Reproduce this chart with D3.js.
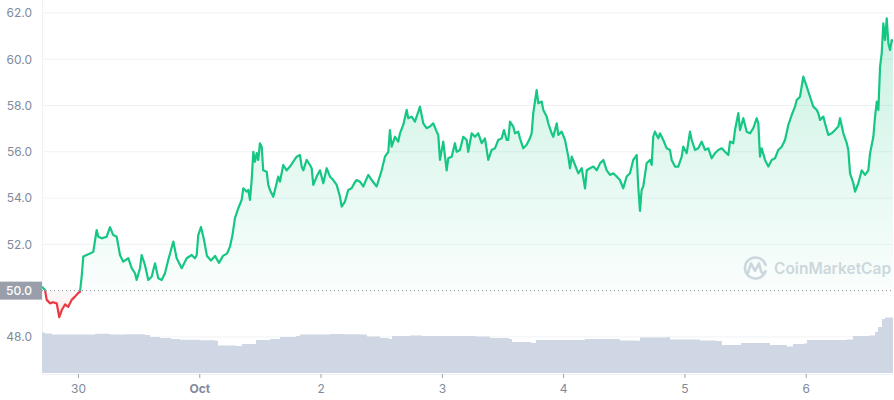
<!DOCTYPE html>
<html><head><meta charset="utf-8">
<script src="https://cdn.jsdelivr.net/npm/d3@7"></script>
<style>
body{margin:0;background:#fff;}
svg{display:block;font-family:Inter,"Noto Sans",sans-serif;}
</style>
</head><body>
<svg id="c" width="894" height="400"></svg>
<script>
// Hours relative to 2021-09-30 00:00 UTC
const priceHours = [-7.12,-6.53,-6.19,-5.54,-4.95,-4.21,-3.7,-3.23,-2.57,-1.92,-1.25,-0.59,0.06,0.40,0.73,1.05,1.72,2.37,3.03,3.70,4.02,4.69,5.68,6.33,6.98,7.66,8.31,8.96,9.95,10.63,11.28,11.61,12.27,12.60,13.26,13.91,14.58,15.24,15.89,16.56,17.21,17.87,18.86,19.53,20.52,21.51,22.50,23.15,23.49,23.80,24.34,24.93,25.52,26.32,27.11,27.90,28.69,29.48,30.07,30.57,31.06,31.72,32.39,32.71,33.39,33.70,34.03,34.37,34.69,35.02,35.36,35.67,36.01,36.35,36.66,37.34,37.65,37.99,38.64,38.98,39.63,39.97,40.62,41.29,41.95,42.60,43.27,43.92,44.26,44.58,45.25,45.90,46.24,46.56,47.23,47.88,48.54,49.21,49.86,50.51,51.19,51.84,52.18,52.83,53.48,54.15,54.67,55.14,55.80,56.45,57.44,58.11,59.10,60.09,60.74,61.40,61.73,62.07,62.72,63.37,63.71,64.36,65.04,65.35,66.03,66.68,67.33,67.67,68.32,68.99,69.65,70.30,70.97,71.29,71.63,72.28,72.95,73.27,73.94,74.59,74.93,75.58,76.24,76.91,77.22,77.90,78.55,79.20,79.88,80.53,81.18,81.86,82.51,83.16,83.84,84.29,84.82,85.14,85.48,86.13,86.47,87.12,87.46,88.11,88.78,89.43,89.77,90.09,90.76,91.08,91.75,92.07,92.74,93.06,93.73,94.05,94.73,95.04,95.71,96.37,97.02,97.36,97.70,98.35,99.01,99.68,100.33,100.67,101.32,101.98,102.65,103.30,103.95,104.62,105.28,105.93,106.59,107.24,107.89,108.57,109.22,109.87,110.55,110.86,111.20,111.53,111.85,112.52,113.18,113.52,113.83,114.17,114.82,115.16,115.81,116.49,117.14,117.47,118.13,118.78,119.46,119.77,120.45,121.10,121.44,122.09,122.74,123.42,124.07,124.72,125.40,126.05,126.70,127.38,128.03,128.68,129.02,129.67,130.01,130.66,131.00,131.65,132.32,132.98,133.63,134.30,134.62,134.95,135.29,135.94,136.60,137.27,137.92,138.58,139.25,139.90,140.56,141.23,141.88,142.22,142.87,143.52,144.20,144.85,145.50,146.18,146.49,146.83,147.48,147.82,148.47,149.15,149.80,150.45,150.79,151.44,152.12,152.43,152.77,153.42,153.76,154.41,155.08,155.74,156.39,156.73,157.38,157.72,158.06,158.37,158.71,159.04,159.36,159.70,160.03,160.35,160.68,161.02,161.27];
const prices = [50.17,50.03,49.6,49.45,49.5,49.45,48.85,49.15,49.4,49.3,49.6,49.74,49.9,49.96,50.6,51.47,51.54,51.6,51.68,52.62,52.33,52.26,52.33,52.74,52.4,52.33,51.54,51.25,51.4,50.97,50.75,50.46,50.97,51.54,51.1,50.46,50.6,51.18,50.53,50.46,50.75,51.33,52.12,51.4,50.97,51.4,51.54,51.4,51.54,52.4,52.75,52.2,51.5,51.3,51.5,51.2,51.5,51.6,51.9,52.4,53.13,53.56,53.92,54.42,54.28,54.35,53.92,54.78,56.0,55.57,55.94,55.65,56.37,56.22,55.2,55.14,54.57,54.35,54.06,54.35,54.93,54.71,55.43,55.2,55.36,55.57,55.79,55.86,55.36,55.2,55.65,55.43,55.29,54.57,54.93,55.2,54.64,55.29,54.93,54.78,54.57,54.06,53.63,53.85,54.35,54.42,54.64,54.78,54.71,54.5,55.0,54.78,54.5,55.2,55.79,56.0,56.94,56.22,56.65,56.44,56.8,57.16,57.81,57.45,57.52,57.3,57.73,57.95,57.23,57.02,57.09,57.23,56.87,56.73,55.65,56.44,55.2,55.72,55.79,56.37,56.0,56.08,56.65,56.51,56.0,56.8,56.65,56.8,56.37,56.58,55.65,56.08,56.15,56.51,56.58,56.94,56.51,56.51,57.3,57.09,56.8,56.87,56.58,56.15,56.3,56.58,56.8,57.67,58.67,58.1,58.17,57.81,57.52,57.23,56.8,56.65,57.23,56.73,56.87,56.51,55.79,55.29,55.79,55.43,55.07,55.29,54.42,55.2,55.29,55.36,55.2,55.5,55.65,55.2,55.0,55.07,54.93,54.78,54.42,54.93,55.07,55.65,55.86,54.5,53.45,54.35,54.5,55.5,55.65,55.43,56.65,56.87,56.58,56.8,56.51,56.15,56.08,55.65,55.36,55.36,55.79,56.22,55.94,56.87,56.51,56.08,56.15,56.44,56.08,56.15,55.72,55.94,56.08,56.15,56.0,55.86,56.44,56.37,56.94,57.67,56.94,57.45,56.87,56.8,57.02,57.45,57.23,55.79,56.15,55.65,55.36,55.65,55.72,56.08,56.22,56.51,57.16,57.59,57.95,58.24,58.38,59.25,58.82,58.38,57.95,57.81,57.67,57.38,57.52,57.23,56.73,56.8,56.94,57.09,57.45,56.8,56.37,56.08,55.07,54.64,54.28,54.64,55.2,55.0,55.2,55.94,56.65,57.52,58.17,57.81,59.68,60.26,61.55,60.83,61.77,60.69,60.4,60.83,60.76];

const volumeHours = [-7.12,-6.53,-5.14,-0.99,1.39,3.36,6.33,9.30,13.26,14.25,16.22,18.40,20.18,24.14,27.11,27.70,31.26,32.45,34.63,35.22,37.99,39.97,43.13,43.92,47.49,49.86,52.83,56.19,57.18,59.75,61.53,62.13,65.69,68.06,73.60,78.75,81.52,85.28,85.87,89.63,90.62,95.37,99.33,100.31,105.86,107.24,110.21,111.20,116.54,117.14,123.07,126.23,127.42,130.59,131.18,136.13,136.92,140.28,141.47,143.65,144.24,152.16,153.34,156.51,157.70,158.29,159.08,159.67,161.27];
const volumes = [40.5,39.5,38.5,38.5,38.5,39.2,38.5,38.8,38,36,35,34,33.3,32.8,32.3,27.5,27,29,29,33,34,36,37,38.5,38.5,39,38.8,38.5,36.5,35,34,37,37.5,37,37,36.5,35,34,31,30,33,33,33,34,34,32.5,32.3,35.5,36,33.5,32.5,32,28,28,30,30,28,26.5,29,29.5,33,33.5,37,37.5,41,46,54,55.5,56];

const yTicks = [48,50,52,54,56,58,60,62];
const xTickDates = ["2021-09-30","2021-10-01","2021-10-02","2021-10-03","2021-10-04","2021-10-05","2021-10-06"];
const xTickLabels = ["30","Oct","2","3","4","5","6"];
const baseline = 50;

(function () {
const L = 42, R = 893, T = 0, B = 373;
const t0 = Date.UTC(2021, 8, 30);
const toDate = h => new Date(t0 + h * 3600000);

const n = Math.min(priceHours.length, prices.length);
const priceData = priceHours.slice(0, n).map((h, i) => ({ t: toDate(h), v: prices[i] }));
const m = Math.min(volumeHours.length, volumes.length);
const volData = volumeHours.slice(0, m).map((h, i) => ({ t: toDate(h), v: volumes[i] }));

const x = d3.scaleUtc().domain(d3.extent(priceData, d => d.t)).range([L, R]);
const y = d3.scaleLinear().domain([46.44, 62.56]).range([B, T]);
const yv = d3.scaleLinear().domain([0, 60]).range([B, B - 60]);

const svg = d3.select("#c");
const defs = svg.append("defs");

const by = y(baseline);
defs.append("clipPath").attr("id", "above").append("rect")
  .attr("x", L).attr("y", T).attr("width", R - L).attr("height", by - T);
defs.append("clipPath").attr("id", "below").append("rect")
  .attr("x", L).attr("y", by).attr("width", R - L).attr("height", B - by);

const gg = defs.append("linearGradient").attr("id", "gGreen")
  .attr("gradientUnits", "userSpaceOnUse").attr("x1", 0).attr("x2", 0).attr("y1", y(62)).attr("y2", by);
gg.append("stop").attr("offset", "0%").attr("stop-color", "#16c784").attr("stop-opacity", 0.24);
gg.append("stop").attr("offset", "100%").attr("stop-color", "#16c784").attr("stop-opacity", 0.02);
const gr = defs.append("linearGradient").attr("id", "gRed")
  .attr("gradientUnits", "userSpaceOnUse").attr("x1", 0).attr("x2", 0).attr("y1", by).attr("y2", y(48.8));
gr.append("stop").attr("offset", "0%").attr("stop-color", "#ea3943").attr("stop-opacity", 0.02);
gr.append("stop").attr("offset", "100%").attr("stop-color", "#ea3943").attr("stop-opacity", 0.14);

// gridlines
svg.append("g").selectAll("line").data(yTicks.filter(d => d !== baseline)).join("line")
  .attr("x1", L).attr("x2", R).attr("y1", d => y(d)).attr("y2", d => y(d))
  .attr("stroke", "#eff2f5").attr("stroke-width", 1);

// left border
svg.append("line").attr("x1", L + 0.5).attr("x2", L + 0.5).attr("y1", 0).attr("y2", B)
  .attr("stroke", "#eff2f5");

// watermark
const wm = svg.append("g").attr("fill", "none").attr("stroke", "#d3d8e1").attr("stroke-width", 2.6)
  .attr("stroke-linecap", "round").attr("stroke-linejoin", "round");
wm.append("path").attr("d", d3.arc()({ innerRadius: 10.5, outerRadius: 10.5, startAngle: 0.6 * Math.PI, endAngle: 2.4 * Math.PI }))
  .attr("transform", "translate(755.5,268)");
wm.append("path").attr("d", "M747.5,274 L751,263.5 L755,271 L759,263.5 L761,271 Q762,275 765,272");
svg.append("text").attr("x", 774).attr("y", 274).attr("fill", "#d3d8e1")
  .attr("font-size", 15.5).attr("font-weight", 600)
  .text("CoinMarketCap");

// volume
svg.append("path").datum(volData)
  .attr("d", d3.area().curve(d3.curveStepAfter).x(d => x(d.t)).y0(B).y1(d => yv(d.v)))
  .attr("fill", "#cfd6e4");

// areas
const area = d3.area().x(d => x(d.t)).y0(by).y1(d => y(d.v));
svg.append("path").datum(priceData).attr("d", area).attr("fill", "url(#gGreen)").attr("clip-path", "url(#above)");
svg.append("path").datum(priceData).attr("d", area).attr("fill", "url(#gRed)").attr("clip-path", "url(#below)");

// baseline dotted
svg.append("line").attr("x1", L).attr("x2", R).attr("y1", by).attr("y2", by)
  .attr("stroke", "#8a8f99").attr("stroke-width", 1).attr("stroke-dasharray", "1,3");

// lines
const line = d3.line().x(d => x(d.t)).y(d => y(d.v));
svg.append("path").datum(priceData).attr("d", line).attr("fill", "none").attr("stroke", "#16c784")
  .attr("stroke-width", 2.2).attr("stroke-linejoin", "round").attr("clip-path", "url(#above)");
svg.append("path").datum(priceData).attr("d", line).attr("fill", "none").attr("stroke", "#ea3943")
  .attr("stroke-width", 2.2).attr("stroke-linejoin", "round").attr("clip-path", "url(#below)");

// y axis
const yAxis = d3.axisLeft(y).tickValues(yTicks.filter(d => d !== baseline)).tickFormat(d3.format(".1f")).tickSize(0).tickPadding(10);
const ya = svg.append("g").attr("transform", `translate(${L},0)`).call(yAxis);
ya.select(".domain").remove();
ya.selectAll("text").attr("fill", "#808a9d").attr("font-size", 12).attr("font-family", "Inter,sans-serif");

// baseline label
svg.append("rect").attr("x", 0).attr("y", by - 9).attr("width", L).attr("height", 18).attr("fill", "#999eaa");
svg.append("text").attr("x", L - 10).attr("y", by).attr("dy", "0.35em").attr("text-anchor", "end")
  .attr("fill", "#fff").attr("font-size", 12).attr("font-weight", 500).text(d3.format(".1f")(baseline));

// x axis
const parse = d3.utcParse("%Y-%m-%d");
const xTicks = xTickDates.map(parse);
const xAxis = d3.axisBottom(x).tickValues(xTicks).tickFormat((d, i) => xTickLabels[i]).tickSize(4).tickPadding(6);
const xa = svg.append("g").attr("transform", `translate(0,${B + 1})`).call(xAxis);
xa.select(".domain").attr("stroke", "#eff2f5").attr("d", `M${L},0.5H${R}`);
xa.selectAll(".tick line").attr("stroke", "#9aa1b0");
xa.selectAll("text").attr("fill", "#808a9d").attr("font-size", 12).attr("font-family", "Inter,sans-serif")
  .attr("font-weight", (d, i) => xTickLabels[i] === "Oct" ? 700 : 400);
})();
</script>
</body></html>
